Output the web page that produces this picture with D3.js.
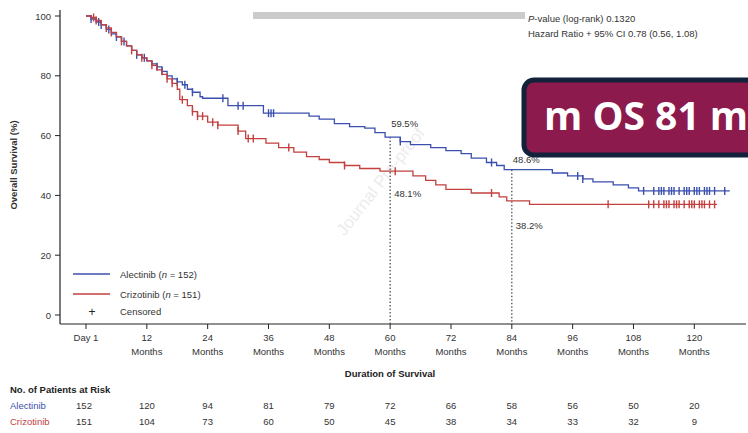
<!DOCTYPE html>
<html>
<head>
<meta charset="utf-8">
<script src="https://cdn.jsdelivr.net/npm/d3@7"></script>
<style>
  body { margin: 0; background: #fff; }
  svg { display: block; font-family: "Liberation Sans", Arial, sans-serif; }
</style>
</head>
<body>
<script>
// Kaplan-Meier steps (month, overall survival %)
var alecMonths = [0, 1, 2, 3, 4, 5, 6, 7, 8, 9, 10, 11, 12, 13, 14, 15, 16, 17, 18, 19, 20, 21, 22.5, 23, 28, 35, 44, 46, 49, 52, 55, 57, 59, 62, 64, 68, 71, 74, 76, 79, 81, 82.5, 92, 95, 98, 100, 104, 107, 109];
var alecSurv   = [100, 99, 98, 97, 95.5, 94, 93, 91.5, 90, 88.5, 87, 86, 85, 84, 83, 81.5, 80, 79, 78, 77, 75.5, 74.5, 73, 72.5, 70, 67.5, 66.5, 65.5, 64, 63, 62.5, 61, 59.5, 58, 57, 56, 55, 54, 52.5, 51, 50, 48.6, 47.5, 46.5, 45.5, 44.5, 43.5, 42.5, 41.5];
var crizMonths = [0, 1, 2, 3, 4, 5, 6, 7, 8, 9, 10, 11, 12, 13, 14, 15, 16, 17, 18, 18.5, 20, 21, 22, 24, 26, 30, 31.5, 35.5, 38, 41, 43.5, 46, 48, 51, 54, 58, 64.5, 67, 69, 71, 76, 81.5, 83, 87.5];
var crizSurv   = [100, 99.5, 98.5, 97, 96, 94.5, 93, 91.5, 90, 88.5, 87, 86, 85, 83.5, 82, 80.5, 79, 77.5, 75.5, 72, 70, 68, 66.5, 64.5, 63.5, 61.5, 59, 57.5, 56, 54.5, 53, 52, 51, 50, 49, 48.1, 46.5, 45, 43.5, 42, 40.8, 39.5, 38.2, 37];
var alecCensor = [1, 2.5, 3, 4.5, 6, 7.5, 10, 11.5, 14, 15, 18, 19.5, 21, 27, 30, 31, 36, 36.5, 37, 62, 80, 97, 98, 110, 112, 113, 113.5, 114, 115, 115.5, 116, 117, 118, 118.5, 119, 120, 120.5, 121, 122, 122.5, 123, 124, 126];
var crizCensor = [1.5, 2, 4, 5, 7, 9, 11, 13, 16, 17, 19, 21, 22, 23, 25, 26, 30, 32, 33, 40, 51, 61, 80, 103, 111, 112, 113, 114, 114.5, 115, 116, 116.5, 117, 118, 119, 119.5, 120, 121, 121.5, 122, 123, 124];
var xTicks = [0, 12, 24, 36, 48, 60, 72, 84, 96, 108, 120];
var yTicks = [0, 20, 40, 60, 80, 100];
var alecRisk = [152, 120, 94, 81, 79, 72, 66, 58, 56, 50, 20];
var crizRisk = [151, 104, 73, 60, 50, 45, 38, 34, 33, 32, 9];
var landmarks = [
  { month: 60, alec: 59.5, criz: 48.1 },
  { month: 84, alec: 48.6, criz: 38.2 }
];

var width = 748, height = 433;
var blue = "#3b4fae", red = "#c2403f";

var svg = d3.select("body").append("svg")
  .attr("width", width)
  .attr("height", height);

var x = d3.scaleLinear().domain([0, 130]).range([86, 745]);
var y = d3.scaleLinear().domain([0, 100]).range([315, 16]);
var axisY = 324;

function survAt(months, surv, t) {
  var i = d3.bisectRight(months, t) - 1;
  return surv[Math.max(0, i)];
}

// watermark
svg.append("text")
  .attr("transform", "translate(385,185) rotate(-52)")
  .attr("text-anchor", "middle")
  .attr("font-size", 17)
  .attr("fill", "#ececec")
  .text("Journal Pre-proof");

// top gray bar
svg.append("rect")
  .attr("x", 253).attr("y", 12)
  .attr("width", 272).attr("height", 7)
  .attr("fill", "#cbcbcb");

// stats text
var stat = svg.append("text").attr("x", 528).attr("y", 22)
  .attr("font-size", 9.5).attr("fill", "#333");
stat.append("tspan").attr("font-style", "italic").text("P");
stat.append("tspan").text("-value (log-rank) 0.1320");
svg.append("text").attr("x", 528).attr("y", 37)
  .attr("font-size", 9.5).attr("fill", "#333")
  .text("Hazard Ratio + 95% CI 0.78 (0.56, 1.08)");

// axes
svg.append("line")
  .attr("x1", 60).attr("x2", 60)
  .attr("y1", 10).attr("y2", axisY)
  .attr("stroke", "#222").attr("stroke-width", 1.2);
svg.append("line")
  .attr("x1", 60).attr("x2", 746)
  .attr("y1", axisY).attr("y2", axisY)
  .attr("stroke", "#222").attr("stroke-width", 1.2);

svg.selectAll(".ytick")
  .data(yTicks)
  .enter().append("line")
  .attr("x1", 55).attr("x2", 60)
  .attr("y1", function (d) { return y(d); })
  .attr("y2", function (d) { return y(d); })
  .attr("stroke", "#222");
svg.selectAll(".ylab")
  .data(yTicks)
  .enter().append("text")
  .attr("x", 51)
  .attr("y", function (d) { return y(d) + 3.5; })
  .attr("text-anchor", "end")
  .attr("font-size", 9.5).attr("fill", "#333")
  .text(function (d) { return d; });

svg.selectAll(".xtick")
  .data(xTicks)
  .enter().append("line")
  .attr("x1", function (d) { return x(d); })
  .attr("x2", function (d) { return x(d); })
  .attr("y1", axisY).attr("y2", axisY + 5)
  .attr("stroke", "#222");
var xl = svg.selectAll(".xlab")
  .data(xTicks)
  .enter().append("text")
  .attr("text-anchor", "middle")
  .attr("font-size", 9.5).attr("fill", "#333");
xl.append("tspan")
  .attr("x", function (d) { return x(d); })
  .attr("y", 341)
  .text(function (d) { return d === 0 ? "Day 1" : d; });
xl.filter(function (d) { return d > 0; }).append("tspan")
  .attr("x", function (d) { return x(d); })
  .attr("y", 355)
  .text("Months");

svg.append("text")
  .attr("transform", "translate(17,165) rotate(-90)")
  .attr("text-anchor", "middle")
  .attr("font-size", 9.5).attr("font-weight", "bold").attr("fill", "#333")
  .text("Overall Survival (%)");
svg.append("text")
  .attr("x", 390).attr("y", 377)
  .attr("text-anchor", "middle")
  .attr("font-size", 9.5).attr("font-weight", "bold").attr("fill", "#222")
  .text("Duration of Survival");

// landmark dotted lines
svg.selectAll(".landmark")
  .data(landmarks)
  .enter().append("line")
  .attr("x1", function (d) { return x(d.month); })
  .attr("x2", function (d) { return x(d.month); })
  .attr("y1", function (d) { return y(d.alec); })
  .attr("y2", axisY)
  .attr("stroke", "#444").attr("stroke-width", 1.2)
  .attr("stroke-dasharray", "1.5,2");

// curves
var step = d3.line()
  .x(function (d) { return x(d[0]); })
  .y(function (d) { return y(d[1]); })
  .curve(d3.curveStepAfter);

var arms = [
  { months: alecMonths, surv: alecSurv, censor: alecCensor, color: blue, end: 127 },
  { months: crizMonths, surv: crizSurv, censor: crizCensor, color: red, end: 124.5 }
];

arms.forEach(function (a) {
  var pts = d3.zip(a.months, a.surv);
  pts.push([a.end, a.surv[a.surv.length - 1]]);
  svg.append("path")
    .datum(pts)
    .attr("d", step)
    .attr("fill", "none")
    .attr("stroke", a.color)
    .attr("stroke-width", 1.3);
  svg.selectAll(null)
    .data(a.censor)
    .enter().append("line")
    .attr("x1", function (d) { return x(d); })
    .attr("x2", function (d) { return x(d); })
    .attr("y1", function (d) { return y(survAt(a.months, a.surv, d)) - 4; })
    .attr("y2", function (d) { return y(survAt(a.months, a.surv, d)) + 4; })
    .attr("stroke", a.color)
    .attr("stroke-width", 1.4);
});

// landmark labels
svg.selectAll(".lmA")
  .data(landmarks)
  .enter().append("text")
  .attr("x", function (d) { return x(d.month) + 1; })
  .attr("y", function (d) { return y(d.alec) - 10 + (d.month === 84 ? 3 : 0); })
  .attr("font-size", 9.5).attr("fill", "#333")
  .text(function (d) { return d.alec + "%"; });
svg.selectAll(".lmC")
  .data(landmarks)
  .enter().append("text")
  .attr("x", function (d) { return x(d.month) + 4; })
  .attr("y", function (d) { return y(d.criz) + 28 - (d.month === 84 ? 0 : 2); })
  .attr("font-size", 9.5).attr("fill", "#333")
  .text(function (d) { return d.criz + "%"; });

// legend
var legend = [
  { label: "Alectinib (", n: "152", color: blue },
  { label: "Crizotinib (", n: "151", color: red }
];
legend.forEach(function (l, i) {
  var ly = 274 + i * 20;
  svg.append("line")
    .attr("x1", 73).attr("x2", 110)
    .attr("y1", ly).attr("y2", ly)
    .attr("stroke", l.color).attr("stroke-width", 1.3);
  var t = svg.append("text").attr("x", 120).attr("y", ly + 3.5)
    .attr("font-size", 9.5).attr("fill", "#333");
  t.append("tspan").text(l.label);
  t.append("tspan").attr("font-style", "italic").text("n");
  t.append("tspan").text(" = " + l.n + ")");
});
svg.append("text").attr("x", 92).attr("y", 316)
  .attr("text-anchor", "middle").attr("font-size", 12).attr("fill", "#222")
  .text("+");
svg.append("text").attr("x", 120).attr("y", 315)
  .attr("font-size", 9.5).attr("fill", "#333")
  .text("Censored");

// risk table
svg.append("text").attr("x", 10).attr("y", 393)
  .attr("font-size", 9.5).attr("font-weight", "bold").attr("fill", "#222")
  .text("No. of Patients at Risk");
var rows = [
  { name: "Alectinib", values: alecRisk, color: blue, y: 409 },
  { name: "Crizotinib", values: crizRisk, color: red, y: 425 }
];
rows.forEach(function (r) {
  svg.append("text").attr("x", 10).attr("y", r.y)
    .attr("font-size", 9.5).attr("fill", r.color)
    .text(r.name);
  svg.selectAll(null)
    .data(r.values)
    .enter().append("text")
    .attr("x", function (d, i) { return x(xTicks[i]) + (i === 0 ? -2 : 0); })
    .attr("y", r.y)
    .attr("text-anchor", "middle")
    .attr("font-size", 9.5).attr("fill", "#333")
    .text(function (d) { return d; });
});

// overlay banner
svg.append("rect")
  .attr("x", 524).attr("y", 80)
  .attr("width", 260).attr("height", 75)
  .attr("rx", 10)
  .attr("fill", "#8d1a4c")
  .attr("stroke", "#13213a").attr("stroke-width", 5);
svg.append("text")
  .attr("x", 544).attr("y", 130)
  .attr("font-family", "'Open Sans', sans-serif")
  .attr("font-size", 39).attr("font-weight", "bold")
  .attr("fill", "#fff")
  .text("m OS 81 m");
</script>
</body>
</html>
